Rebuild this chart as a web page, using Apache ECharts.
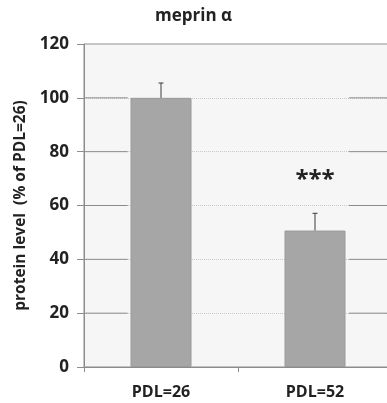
<!DOCTYPE html>
<html>
<head>
<meta charset="utf-8">
<script src="https://cdn.jsdelivr.net/npm/echarts@6/dist/echarts.min.js"></script>
<style>
  html, body { margin: 0; padding: 0; background: #fff; }
  #chart { width: 387px; height: 403px; }
</style>
</head>
<body>
<div id="chart"></div>
<script>
  const categories = ['PDL=26', 'PDL=52']
  const meanValues = [100, 50.7]
  const errorValues = [5.5, 6.4]
  const sigMarks = ['', '***']
  const yTicks = [20, 40, 60, 80, 100]

  const chart = echarts.init(document.getElementById('chart'))
  const font = '"Open Sans", "Liberation Sans", sans-serif'
  const axisGray = '#8c8c8c'

  // error bar: line from mean up to mean+err with a small cap
  const renderError = (params, api) => {
    let x = api.value(0)
    let low = api.coord([x, api.value(1)])
    let high = api.coord([x, api.value(1) + api.value(2)])
    let style = { stroke: '#3a3a3a', lineWidth: 1 }
    return {
      type: 'group',
      children: [{
        type: 'line',
        shape: { x1: low[0], y1: low[1], x2: high[0], y2: high[1] },
        style: style
      }, {
        type: 'line',
        shape: { x1: high[0] - 2.5, y1: high[1], x2: high[0] + 2.5, y2: high[1] },
        style: style
      }]
    }
  }

  // gridline pieces outside the bars are solid, the middle stays dotted
  const renderGridPiece = (params, api) => {
    let cs = params.coordSys
    let y = api.coord([0, api.value(0)])[1]
    let style = { stroke: axisGray, lineWidth: 1 }
    return {
      type: 'group',
      children: [{
        type: 'line',
        shape: { x1: cs.x, y1: y, x2: cs.x + cs.width * 0.142, y2: y },
        style: style
      }, {
        type: 'line',
        shape: { x1: cs.x + cs.width * 0.86, y1: y, x2: cs.x + cs.width, y2: y },
        style: style
      }]
    }
  }

  chart.setOption({
    animation: false,
    title: {
      text: 'meprin α',
      left: 'center',
      top: 3,
      textStyle: { fontFamily: font, fontWeight: 'bold', fontSize: 17, color: '#222' }
    },
    grid: {
      left: 84,
      right: -5,
      top: 44,
      bottom: 36,
      outerBoundsMode: 'none',
      show: true,
      backgroundColor: '#f6f6f6',
      borderColor: axisGray,
      borderWidth: 1
    },
    xAxis: {
      type: 'category',
      data: categories,
      axisLine: { lineStyle: { color: axisGray } },
      axisTick: { show: true, length: 5, lineStyle: { color: axisGray } },
      axisLabel: { margin: 17, fontFamily: font, fontWeight: 'bold', fontSize: 16, color: '#222' }
    },
    yAxis: {
      type: 'value',
      min: 0,
      max: 120,
      interval: 20,
      name: 'protein level  (% of PDL=26)',
      nameLocation: 'middle',
      nameRotate: 90,
      nameGap: 47,
      nameTextStyle: { fontFamily: font, fontWeight: 'bold', fontSize: 15.5, color: '#222' },
      axisLine: { show: true, lineStyle: { color: axisGray } },
      axisTick: { show: true, inside: false, length: 7, lineStyle: { color: axisGray } },
      axisLabel: { margin: 15, fontFamily: font, fontWeight: 'bold', fontSize: 17, color: '#222' },
      splitLine: { show: true, lineStyle: { color: '#c8c8c8', type: 'dotted' } }
    },
    series: [{
      type: 'custom',
      name: 'grid',
      silent: true,
      renderItem: renderGridPiece,
      encode: { y: 0 },
      data: yTicks.map(v => [v]),
      z: 1
    }, {
      type: 'bar',
      name: 'meprin',
      barWidth: 61,
      data: meanValues,
      itemStyle: { color: '#a6a6a6', borderColor: '#9a9a9a', borderWidth: 1 },
      label: {
        show: true,
        position: 'top',
        distance: 38,
        formatter: p => sigMarks[p.dataIndex],
        fontFamily: font,
        fontWeight: 'bold',
        fontSize: 24,
        color: '#222'
      },
      z: 2
    }, {
      type: 'custom',
      name: 'error',
      renderItem: renderError,
      encode: { x: 0, y: [1] },
      data: meanValues.map((v, i) => [i, v, errorValues[i]]),
      z: 3
    }]
  })
</script>
</body>
</html>
